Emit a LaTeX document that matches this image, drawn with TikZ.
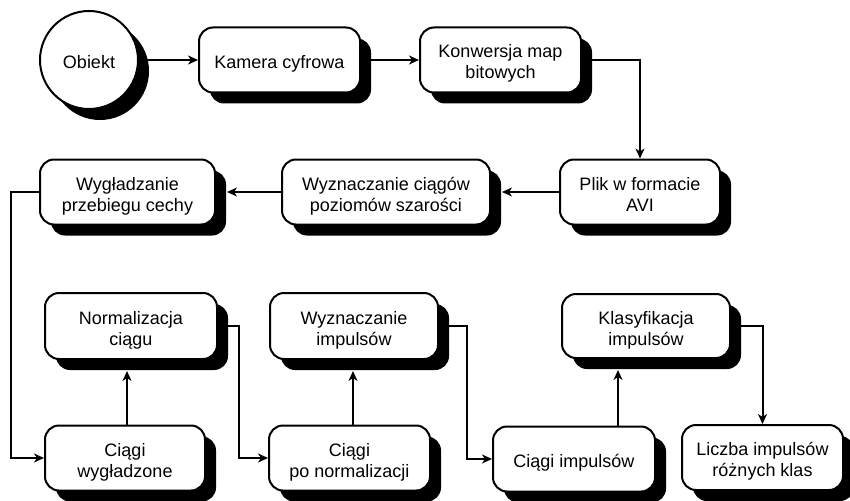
\documentclass[tikz,border=0pt]{standalone}
\usepackage{fontspec}
\setmainfont{Liberation Sans}
\usetikzlibrary{arrows.meta,shadows}

\begin{document}
\begin{tikzpicture}[x=1pt,y=-1pt,
		font=\fontsize{18}{21}\selectfont,
		blok/.style={draw,line width=2pt,fill=white,rounded corners=14pt,align=center,inner sep=0pt,
			text height=17pt,text depth=0pt,
			minimum height=65pt,drop shadow={shadow xshift=11pt,shadow yshift=-11pt,opacity=1,fill=black}},
		blokdwa/.style={blok,text height=38pt},
		kolo/.style={draw,line width=2pt,fill=white,circle,minimum size=98pt,inner sep=0pt,
			text height=17pt,text depth=0pt,
			drop shadow={shadow xshift=11pt,shadow yshift=-11pt,opacity=1,fill=black}},
		strz/.style={line width=2pt,-{Stealth[length=10pt,width=9pt,inset=3pt]}}]
		\useasboundingbox (0,0) rectangle (850,500);

		\node[kolo] (obiekt) at (89,60) {Obiekt};
		\node[blok,minimum width=161pt] (kamera) at (279.5,60) {Kamera cyfrowa};
		\node[blokdwa,minimum width=161pt] (konw) at (500.5,60) {Konwersja map\\bitowych};
		\node[blokdwa,minimum width=160pt] (plik) at (640,192) {Plik w formacie\\AVI};
		\node[blokdwa,minimum width=208pt] (szarosc) at (386,192) {Wyznaczanie ciągów\\poziomów szarości};
		\node[blokdwa,minimum width=175pt] (wygladz) at (127.5,192) {Wygładzanie\\przebiegu cechy};

		\node[blokdwa,minimum width=172pt,minimum height=66pt] (norm) at (131,326) {Normalizacja\\ciągu};
		\node[blokdwa,minimum width=168pt,minimum height=66pt] (wyzimp) at (354,326) {Wyznaczanie\\impulsów};
		\node[blokdwa,minimum width=168pt,minimum height=64pt] (klas) at (646,326) {Klasyfikacja\\impulsów};

		\node[blokdwa,minimum width=160pt] (ciagwyg) at (125,458) {Ciągi\\wygładzone};
		\node[blokdwa,minimum width=161pt] (ciagnorm) at (349.5,458) {Ciągi\\po normalizacji};
		\node[blok,minimum width=162pt] (ciagimp) at (574,459) {Ciągi impulsów};
		\node[blokdwa,minimum width=161pt] (liczba) at (762.5,457.5) {Liczba impulsów\\różnych klas};

		\draw[strz] (obiekt) -- (kamera);
		\draw[strz] (kamera) -- (konw);
		\draw[strz] (konw.east) -| (plik.north);
		\draw[strz] (plik) -- ([xshift=11pt]szarosc.east);
		\draw[strz] (szarosc) -- ([xshift=11pt]wygladz.east);
		\draw[strz] (wygladz.west) -- ++(-28,0) |- (ciagwyg.west);
		\draw[strz] ([xshift=2pt]ciagwyg.north) -- ([xshift=2pt,yshift=-11pt]ciagwyg.north |- norm.south);
		\draw[strz] (norm.east) -- ++(21,0) |- (ciagnorm.west);
		\draw[strz] ([xshift=3.5pt]ciagnorm.north) -- ([xshift=3.5pt,yshift=-11pt]ciagnorm.north |- wyzimp.south);
		\draw[strz] (wyzimp.east) -- ++(28,0) |- (ciagimp.west);
		\draw[strz] ([xshift=44pt]ciagimp.north) -- ([xshift=44pt,yshift=-11pt]ciagimp.north |- klas.south);
		\draw[strz] (klas.east) -| (liczba.north);
	\end{tikzpicture}
\end{document}
